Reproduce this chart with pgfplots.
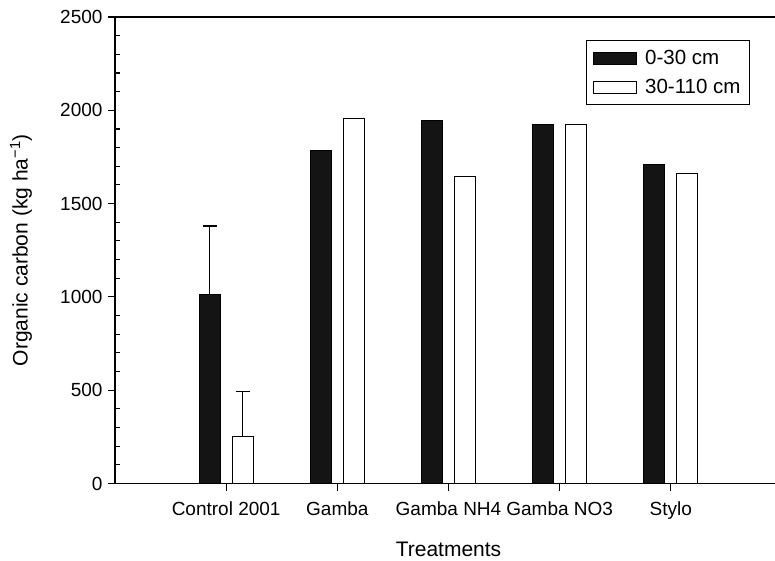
\documentclass[border=0pt]{standalone}
\usepackage{pgfplots}
\pgfplotsset{compat=1.18}
\usepackage{fontspec}
\setmainfont{Liberation Sans}

\definecolor{barblack}{HTML}{141414}

\begin{document}
\begin{tikzpicture}
\begin{axis}[
  name=ax,
  scale only axis,
  width=667pt, height=466.5pt,
  xmin=0, xmax=6,
  ymin=0, ymax=2500,
  axis x line*=bottom, axis y line*=left,
  axis line style={line width=1.1pt, -},
  xtick={1,2,3,4,5},
  xticklabels={Control 2001, Gamba, Gamba NH4, Gamba NO3, Stylo},
  ytick={0,500,...,2500},
  minor y tick num=4,
  tick align=outside,
  major tick length=7pt,
  minor tick length=5pt,
  tick style={line width=1.1pt, black},
  minor tick style={xshift=5pt},
  /pgf/number format/assume math mode=true,
  /pgf/number format/1000 sep={},
  tick label style={font=\fontsize{19}{19}\selectfont},
  xticklabel style={yshift=-8pt},
  yticklabel style={xshift=-2pt},
  every axis x label/.style={at={(rel axis cs:0.5,0)}, yshift=-66pt, anchor=center},
  every axis y label/.style={at={(rel axis cs:0,0.5)}, xshift=-94pt, rotate=90, anchor=center},
  label style={font=\fontsize{21}{21}\selectfont},
  xlabel={Treatments},
  ylabel={Organic carbon (kg ha\textsuperscript{−1})},
  legend style={at={(rel axis cs:0.952,0.951)}, anchor=north east,
    draw=black, line width=1pt, font=\fontsize{20.5}{20.5}\selectfont,
    inner xsep=7pt, inner ysep=8pt, row sep=9pt},
  legend cell align=left,
  legend image code/.code={\draw[#1, line width=1pt] (0pt,-6pt) rectangle (43pt,6pt); \path (49pt,0pt);},
]

% 0-30 cm
\addplot[ybar, bar width=0.19, bar shift=-0.148, fill=barblack, draw=black, line width=1.1pt]
  coordinates {(1,1013) (2,1783) (3,1944) (4,1925) (5,1708)};
\addlegendentry{0-30 cm}

% 30-110 cm
\addplot[ybar, bar width=0.19, bar shift=0.148, fill=white, draw=black, line width=1.1pt]
  coordinates {(1,254) (2,1957) (3,1644) (4,1923) (5,1660)};
\addlegendentry{30-110 cm}

% error bars, Control 2001 only (x placed at the bar centres)
\addplot[draw=none, mark=none, forget plot,
  error bars/.cd, y dir=plus, y explicit,
  error bar style={line width=1.1pt, black, solid},
  error mark options={rotate=90, line width=1.1pt, mark size=7pt, black, solid}]
  coordinates {(0.852,1013) +- (0,367) (1.148,254) +- (0,238)};

\draw[line width=1.1pt] (rel axis cs:0,1) -- (rel axis cs:1,1);
\end{axis}
\pgfresetboundingbox
\path (ax.south west) ++(-115pt,-77.5pt) coordinate (bl);
\path (ax.south west) ++(660pt,483.5pt) coordinate (tr);
\path (bl) rectangle (tr);
\end{tikzpicture}
\end{document}
